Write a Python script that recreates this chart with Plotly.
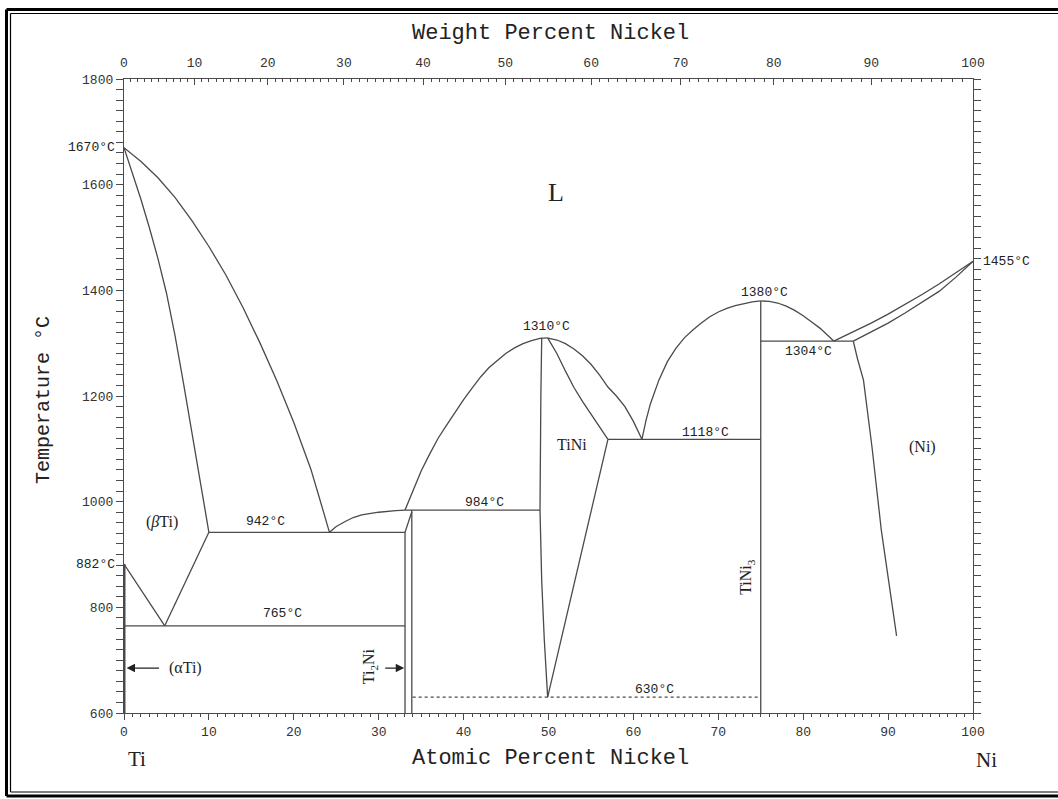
import plotly.graph_objects as go

# ---------------- data (atomic % Ni, temperature °C) ----------------
liq_ti_x = [0, 2, 4, 6, 8, 10, 12, 14, 16, 18, 20, 22, 23, 24.2]
liq_ti_t = [1670, 1644, 1613, 1576, 1532, 1483, 1429, 1368, 1301, 1229, 1150, 1062, 1008, 942]

sol_bti_x = [0, 1, 2, 3, 4, 5, 6, 7, 8, 9, 10]
sol_bti_t = [1670, 1622, 1572, 1518, 1460, 1395, 1315, 1225, 1133, 1040, 942]

transus_x = [0, 1, 2, 3, 4, 4.8]
transus_t = [882, 858, 834, 810, 786, 765]

bti_solvus_x = [10, 4.8]
bti_solvus_t = [942, 765]

liq_ti2ni_x = [24.2, 25, 26, 27, 28, 30, 32, 33.1]
liq_ti2ni_t = [942, 953, 962, 970, 975, 980, 983, 984]

liq_tini_l_x = [33.1, 34, 35, 36, 37, 38, 39, 40, 41, 42, 43, 44, 45, 46, 47, 48, 49, 49.8]
liq_tini_l_t = [984, 1020, 1058, 1090, 1120, 1145, 1170, 1193, 1215, 1236, 1254, 1268, 1281, 1291, 1299, 1305, 1309, 1310]

liq_tini_r_x = [49.8, 51, 52, 53, 54, 55, 56, 57, 58, 59, 60, 61]
liq_tini_r_t = [1310, 1306, 1299, 1289, 1276, 1260, 1240, 1217, 1200, 1180, 1152, 1118]

sol_tini_r_x = [49.9, 51, 52, 53, 54, 55, 56, 57]
sol_tini_r_t = [1310, 1280, 1247, 1216, 1190, 1166, 1142, 1118]

solv_tini_r_x = [57, 49.9]
solv_tini_r_t = [1118, 630]

tini_left_x = [49.2, 49.1, 49.0, 49.2, 49.5, 49.9]
tini_left_t = [1310, 1200, 984, 850, 740, 630]

liq_tini3_l_x = [61, 61.5, 62, 63, 64, 65, 66, 67, 68, 69, 70, 71, 72, 73, 74, 75]
liq_tini3_l_t = [1118, 1155, 1185, 1230, 1265, 1290, 1310, 1325, 1338, 1350, 1359, 1366, 1371, 1375, 1378, 1380]

liq_tini3_r_x = [75, 76, 77, 78, 79, 80, 81, 82, 83, 83.6]
liq_tini3_r_t = [1380, 1379, 1376, 1370, 1362, 1352, 1340, 1328, 1313, 1304]

liq_ni_x = [83.6, 86, 88, 90, 92, 94, 96, 98, 100]
liq_ni_t = [1304, 1322, 1338, 1355, 1373, 1392, 1412, 1433, 1455]

sol_ni_x = [85.9, 88, 90, 92, 94, 96, 98, 100]
sol_ni_t = [1304, 1321, 1338, 1357, 1377, 1398, 1425, 1455]

solv_ni_x = [85.9, 86.4, 87.1, 88.1, 89.2, 90.1, 91.0]
solv_ni_t = [1304, 1270, 1230, 1104, 946, 845, 746]

# invariant lines: (x_start, x_end, T)
iso_765 = [0, 33.1, 765]
iso_942 = [10, 33.1, 942]
iso_984 = [33.1, 49.0, 984]
iso_1118 = [57, 75, 1118]
iso_1304 = [75, 85.9, 1304]
iso_630 = [34.0, 75, 630]

# compounds
ti2ni_left_x = [33.1, 33.1, 33.9]
ti2ni_left_t = [600, 942, 981]
ti2ni_right_x = [33.9, 33.9]
ti2ni_right_t = [600, 984]
tini3_x = [75, 75]
tini3_t = [600, 1380]
alpha_ti_x = [0, 0]
alpha_ti_t = [600, 882]

# axes
at_ticks = [0, 10, 20, 30, 40, 50, 60, 70, 80, 90, 100]
temp_ticks = [600, 800, 1000, 1200, 1400, 1600, 1800]
wt_ticks = [0, 10, 20, 30, 40, 50, 60, 70, 80, 90, 100]
M_TI, M_NI = 47.867, 58.693
T_MIN, T_MAX = 600, 1800


def wt_to_at(w):
    a = w / M_NI
    b = (100 - w) / M_TI
    return 100 * a / (a + b)


LC = "#4a4a4a"
LW = 1.3
MONO = "Liberation Mono"
SERIF = "Liberation Serif"

fig = go.Figure()


def add_line(x, y, width=LW, dash=None):
    fig.add_trace(go.Scatter(x=x, y=y, mode="lines",
                             line=dict(color=LC, width=width, dash=dash),
                             hoverinfo="skip", showlegend=False))


for xs, ts in [(liq_ti_x, liq_ti_t), (sol_bti_x, sol_bti_t), (transus_x, transus_t),
               (bti_solvus_x, bti_solvus_t), (liq_ti2ni_x, liq_ti2ni_t),
               (liq_tini_l_x, liq_tini_l_t), (liq_tini_r_x, liq_tini_r_t),
               (sol_tini_r_x, sol_tini_r_t), (solv_tini_r_x, solv_tini_r_t),
               (tini_left_x, tini_left_t), (liq_tini3_l_x, liq_tini3_l_t),
               (liq_tini3_r_x, liq_tini3_r_t), (liq_ni_x, liq_ni_t),
               (sol_ni_x, sol_ni_t), (solv_ni_x, solv_ni_t),
               (ti2ni_left_x, ti2ni_left_t), (ti2ni_right_x, ti2ni_right_t),
               (tini3_x, tini3_t)]:
    add_line(xs, ts)

for iso in [iso_765, iso_942, iso_984, iso_1118, iso_1304]:
    add_line([iso[0], iso[1]], [iso[2], iso[2]])
add_line([iso_630[0], iso_630[1]], [iso_630[2], iso_630[2]], dash="dot")
add_line(alpha_ti_x, alpha_ti_t, width=3)

# invisible trace for top axis
fig.add_trace(go.Scatter(x=[0, 100], y=[600, 600], xaxis="x2", mode="lines",
                         line=dict(width=0), hoverinfo="skip", showlegend=False))

# ---------------- labels ----------------
labels = [
    ("L", 50.9, 1586, SERIF, 26, 0),
    ("(<i>β</i>Ti)", 4.5, 961, SERIF, 16, 0),
    ("942°C", 16.7, 963, MONO, 13, 0),
    ("765°C", 18.7, 789, MONO, 13, 0),
    ("(αTi)", 7.3, 685, SERIF, 16, 0),
    ("984°C", 42.5, 999, MONO, 13, 0),
    ("1310°C", 49.8, 1331, MONO, 13, 0),
    ("TiNi", 52.8, 1108, SERIF, 16, 0),
    ("1118°C", 68.5, 1130, MONO, 13, 0),
    ("1380°C", 75.4, 1396, MONO, 13, 0),
    ("1304°C", 80.6, 1284, MONO, 13, 0),
    ("(Ni)", 94.0, 1104, SERIF, 16, 0),
    ("630°C", 62.5, 644, MONO, 13, 0),
    ("Ti<sub>2</sub>Ni", 29.0, 689, SERIF, 16, -90),
    ("TiNi<sub>3</sub>", 73.4, 858, SERIF, 16, -90),
]
annotations = []
for txt, x, y, fam, size, ang in labels:
    annotations.append(dict(text=txt, x=x, y=y, xref="x", yref="y", showarrow=False,
                            font=dict(family=fam, size=size, color="#222"),
                            textangle=ang))

PW, PH, L0, T0 = 849.0, 634.0, 124.0, 79.0


def px(xp):
    return (xp - L0) / PW


def py(yp):
    return (T0 + PH - yp) / PH


def ty(t):
    return (t - T_MIN) / (T_MAX - T_MIN)


annotations += [
    dict(text="1670°C", x=px(117), y=ty(1670), xref="paper", yref="paper",
         xanchor="right", yanchor="middle",
         showarrow=False, font=dict(family=MONO, size=13, color="#222")),
    dict(text="882°C", x=px(117), y=ty(882), xref="paper", yref="paper",
         xanchor="right", yanchor="middle",
         showarrow=False, font=dict(family=MONO, size=13, color="#222")),
    dict(text="1455°C", x=px(981), y=ty(1455), xref="paper", yref="paper",
         xanchor="left", yanchor="middle",
         showarrow=False, font=dict(family=MONO, size=13, color="#222")),
]
annotations += [
    dict(text="", x=0.3, y=685, ax=4.3, ay=685, xref="x", yref="y", axref="x", ayref="y",
         showarrow=True, arrowhead=2, arrowsize=1.3, arrowwidth=1.3, arrowcolor="#222"),
    dict(text="", x=33.0, y=685, ax=30.6, ay=685, xref="x", yref="y", axref="x", ayref="y",
         showarrow=True, arrowhead=2, arrowsize=1.3, arrowwidth=1.3, arrowcolor="#222"),
]
annotations += [
    dict(text="Weight Percent Nickel", x=px(550), y=py(33), xref="paper", yref="paper",
         xanchor="center", yanchor="middle",
         showarrow=False, font=dict(family=MONO, size=22, color="#222")),
    dict(text="Atomic Percent Nickel", x=px(550), y=py(758), xref="paper", yref="paper",
         xanchor="center", yanchor="middle",
         showarrow=False, font=dict(family=MONO, size=22, color="#222")),
    dict(text="Temperature °C", x=px(43), y=py(400), xref="paper", yref="paper",
         xanchor="center", yanchor="middle",
         showarrow=False, textangle=-90, font=dict(family=MONO, size=20, color="#222")),
    dict(text="Ti", x=px(137), y=py(759), xref="paper", yref="paper",
         xanchor="center", yanchor="middle",
         showarrow=False, font=dict(family=SERIF, size=21, color="#222")),
    dict(text="Ni", x=px(987), y=py(760), xref="paper", yref="paper",
         xanchor="center", yanchor="middle",
         showarrow=False, font=dict(family=SERIF, size=21, color="#222")),
]

shapes = []
for (xl, yt, yb, w) in [(6.5, 9.5, 796, 3), (10.5, 13.5, 792, 1.2)]:
    shapes.append(dict(type="line", xref="paper", yref="paper", x0=px(xl), x1=px(xl),
                       y0=py(yt), y1=py(yb), line=dict(color="black", width=w)))
    shapes.append(dict(type="line", xref="paper", yref="paper", x0=px(xl), x1=px(1065),
                       y0=py(yt), y1=py(yt), line=dict(color="black", width=w)))
    shapes.append(dict(type="line", xref="paper", yref="paper", x0=px(xl), x1=px(1065),
                       y0=py(yb), y1=py(yb), line=dict(color="black", width=w)))

tickfont = dict(family=MONO, size=13, color="#333")
fig.update_layout(
    width=1058, height=799,
    margin=dict(l=124, r=85, t=79, b=86),
    paper_bgcolor="white", plot_bgcolor="white",
    showlegend=False,
    annotations=annotations,
    shapes=shapes,
    xaxis=dict(range=[0, 100], tickmode="array", tickvals=at_ticks,
               ticktext=[str(v) for v in at_ticks],
               showgrid=False, zeroline=False, showline=True, linecolor=LC, linewidth=1.3,
               ticks="outside", ticklen=6, tickcolor=LC, tickfont=tickfont,
               minor=dict(dtick=1, ticks="outside", ticklen=3, tickcolor=LC, showgrid=False)),
    xaxis2=dict(range=[0, 100], overlaying="x", side="top", tickmode="array",
                tickvals=[wt_to_at(w) for w in wt_ticks],
                ticktext=[str(w) for w in wt_ticks],
                showgrid=False, zeroline=False, showline=True, linecolor=LC, linewidth=1.3,
                ticks="inside", ticklen=6, tickcolor=LC, tickfont=tickfont,
                ticklabelstandoff=6,
                minor=dict(tickmode="array", tickvals=[wt_to_at(w) for w in range(101)],
                           ticks="inside", ticklen=3, tickcolor=LC, showgrid=False)),
    yaxis=dict(range=[T_MIN, T_MAX], tickmode="array", tickvals=temp_ticks,
               ticktext=[str(v) for v in temp_ticks],
               showgrid=False, zeroline=False, showline=True, linecolor=LC, linewidth=1.3,
               mirror="allticks",
               ticks="outside", ticklen=7, tickcolor=LC, tickfont=tickfont,
               minor=dict(dtick=20, ticks="outside", ticklen=3, tickcolor=LC, showgrid=False)),
)

fig.write_html("out.html", config={"displayModeBar": False},
               post_script="document.body.style.margin='0px';document.body.style.overflow='hidden';")
